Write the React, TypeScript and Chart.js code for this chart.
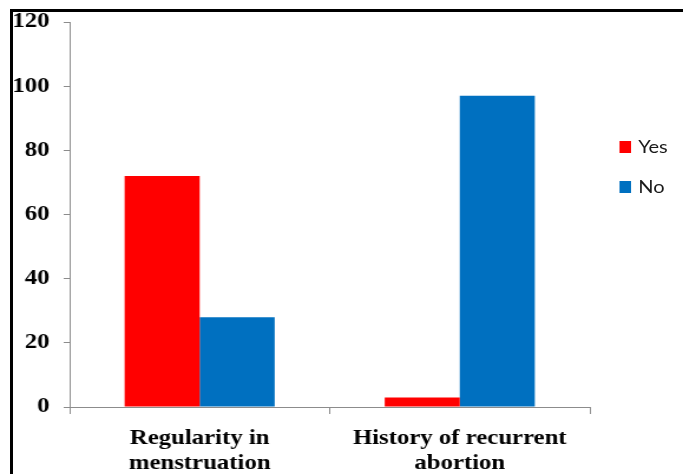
import React, { useEffect, useRef } from "react";
import { Chart, registerables } from "chart.js";

Chart.register(...registerables);

const categories: string[][] = [["Regularity in", "menstruation"], ["History of recurrent", "abortion"]];
const seriesNames = ["Yes", "No"];
const yesValues = [72, 3];
const noValues = [28, 97];
const yMin = 0;
const yMax = 120;
const yStep = 20;
const seriesColors = ["#FF0000", "#0070C0"];

// The reference picture is stretched horizontally; draw narrower and stretch.
const STRETCH = 1.18;
const FULL_W = 683;
const FULL_H = 474;
const CANVAS_W = Math.round(FULL_W / STRETCH);

const axisColor = "#8c8c8c";
const serifBold = { family: "'Liberation Serif', 'Times New Roman', serif", size: 21, weight: "bold" as const, lineHeight: 1.2 };

export default function App() {
  const canvasRef = useRef<HTMLCanvasElement | null>(null);

  useEffect(() => {
    if (!canvasRef.current) return;
    const chart = new Chart(canvasRef.current, {
      type: "bar",
      data: {
        labels: categories,
        datasets: [
          { label: seriesNames[0], data: yesValues, backgroundColor: seriesColors[0], borderWidth: 0 },
          { label: seriesNames[1], data: noValues, backgroundColor: seriesColors[1], borderWidth: 0 },
        ],
      },
      options: {
        responsive: false,
        animation: false,
        layout: { padding: { top: 22, right: 79, left: 0, bottom: 0 } },
        datasets: { bar: { barPercentage: 1, categoryPercentage: 0.577 } },
        plugins: { legend: { display: false }, tooltip: { enabled: false } },
        scales: {
          x: {
            grid: { display: true, drawOnChartArea: false, offset: true, color: axisColor, tickLength: 7 },
            border: { color: axisColor, width: 1 },
            ticks: { font: serifBold, color: "#000", padding: 12, maxRotation: 0, autoSkip: false },
            afterFit: (s: any) => { s.height = 67; },
          },
          y: {
            min: yMin,
            max: yMax,
            grid: { display: true, drawOnChartArea: false, color: axisColor, tickLength: 5 },
            border: { color: axisColor, width: 1 },
            ticks: { stepSize: yStep, font: serifBold, color: "#000", padding: 12 },
            afterFit: (s: any) => { s.width = 59; s.paddingTop = 0; s.paddingBottom = 0; },
          },
        },
      },
    });
    return () => chart.destroy();
  }, []);

  const legendText = { fontFamily: "Lato, 'Open Sans', 'Liberation Sans', sans-serif", fontSize: 17, color: "#1a1a1a", lineHeight: "22px" };

  return (
    <div style={{ position: "fixed", left: 0, top: 0, width: FULL_W, height: FULL_H, overflow: "hidden", background: "#fff" }}>
      <div style={{ position: "absolute", left: 0, top: 0, width: CANVAS_W, height: FULL_H, transform: `scaleX(${FULL_W / CANVAS_W})`, transformOrigin: "0 0" }}>
        <canvas ref={canvasRef} width={CANVAS_W} height={FULL_H} style={{ position: "absolute", left: 0, top: 0 }} />
        {seriesNames.map((name, i) => (
          <div key={name} style={{ position: "absolute", left: 525, top: 136 + i * 40, display: "flex", alignItems: "center", height: 22 }}>
            <div style={{ width: 10, height: 12, background: seriesColors[i], marginRight: 6 }} />
            <span style={legendText}>{name}</span>
          </div>
        ))}
      </div>
      <div style={{ position: "absolute", left: 10, top: 9, width: 720, height: 520, border: "3px solid #000", pointerEvents: "none" }} />
    </div>
  );
}
